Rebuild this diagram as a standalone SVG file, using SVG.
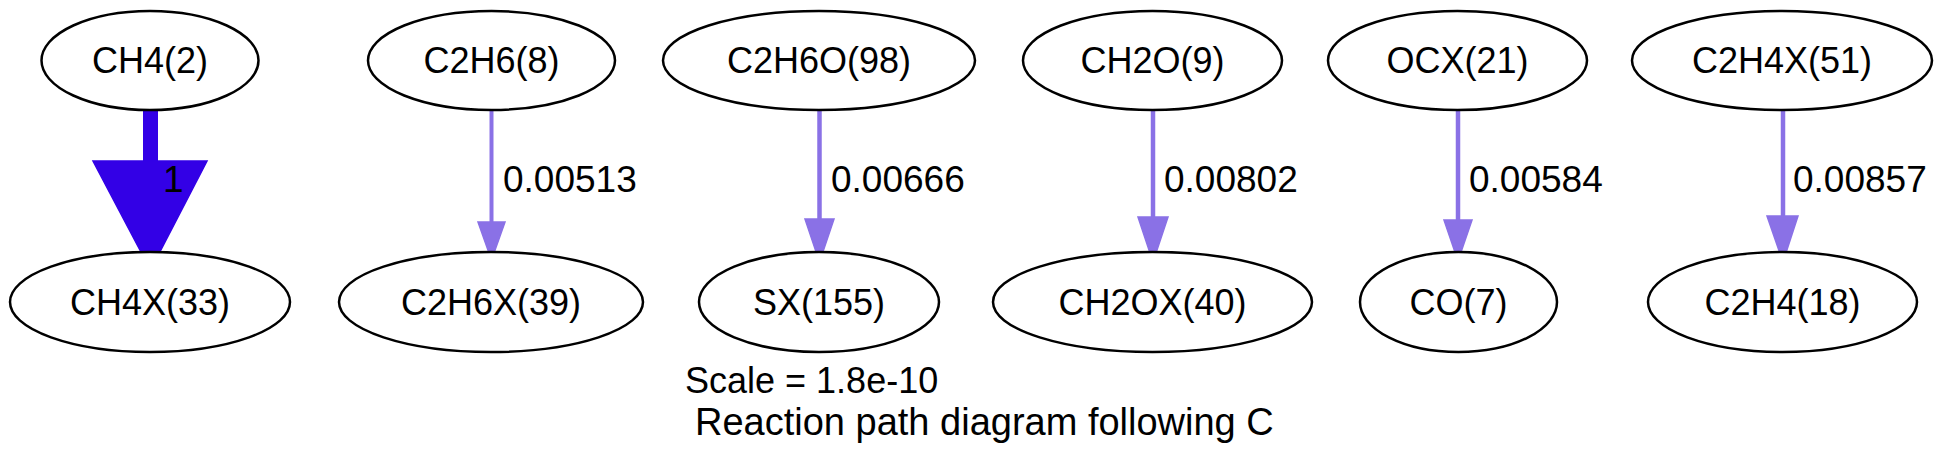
<svg xmlns="http://www.w3.org/2000/svg" width="1952" height="469" viewBox="0 0 1952 469">
<style>
.n ellipse{fill:#fff;stroke:#000;stroke-width:2.5}
.n text{font-family:"Liberation Sans",Arial,sans-serif;font-size:36px;text-anchor:middle;fill:#000}
.e line{stroke:#8a71e6;stroke-width:4.5}
.e polygon{fill:#8a71e6;stroke:#8a71e6;stroke-width:1.5}
.e text,.t{font-family:"Liberation Sans",Arial,sans-serif;font-size:37px;fill:#000}
</style>
<rect width="1952" height="469" fill="#fff"/>
<g id="connectors" class="e">
  <g id="e1">
    <line x1="150.5" y1="110" x2="150.5" y2="162" style="stroke:#3300e6;stroke-width:15"/>
    <polygon points="93,161 207,161 150.5,270" style="fill:#3300e6;stroke:#3300e6"/>
    <text x="163" y="192">1</text>
  </g>
  <g id="e2">
    <line x1="491.5" y1="110" x2="491.5" y2="224" style="stroke-width:4"/>
    <polygon points="478,222 505,222 491.5,260"/>
    <text x="503" y="192">0.00513</text>
  </g>
  <g id="e3">
    <line x1="819.5" y1="110" x2="819.5" y2="221"/>
    <polygon points="805,219 834,219 819.5,262"/>
    <text x="831" y="192">0.00666</text>
  </g>
  <g id="e4">
    <line x1="1153" y1="110" x2="1153" y2="219"/>
    <polygon points="1138,217 1168,217 1153,262"/>
    <text x="1164" y="192">0.00802</text>
  </g>
  <g id="e5">
    <line x1="1458" y1="110" x2="1458" y2="222"/>
    <polygon points="1444,220 1472,220 1458,261"/>
    <text x="1469" y="192">0.00584</text>
  </g>
  <g id="e6">
    <line x1="1783" y1="110" x2="1783" y2="218"/>
    <polygon points="1767,216 1798,216 1783,262"/>
    <text x="1793" y="192">0.00857</text>
  </g>
</g>
<g id="CH4_2" class="n"><ellipse cx="150" cy="60.5" rx="108.5" ry="49.5"/><text x="150" y="73">CH4(2)</text></g>
<g id="CH4X_33" class="n"><ellipse cx="150" cy="302" rx="140" ry="50"/><text x="150" y="315">CH4X(33)</text></g>
<g id="C2H6_8" class="n"><ellipse cx="491.5" cy="60.5" rx="123.5" ry="49.5"/><text x="491.5" y="73">C2H6(8)</text></g>
<g id="C2H6X_39" class="n"><ellipse cx="491" cy="302" rx="152" ry="50"/><text x="491" y="315">C2H6X(39)</text></g>
<g id="C2H6O_98" class="n"><ellipse cx="819" cy="60.5" rx="156" ry="49.5"/><text x="819" y="73">C2H6O(98)</text></g>
<g id="SX_155" class="n"><ellipse cx="819" cy="302" rx="120" ry="50"/><text x="819" y="315">SX(155)</text></g>
<g id="CH2O_9" class="n"><ellipse cx="1152.5" cy="60.5" rx="129.5" ry="49.5"/><text x="1152.5" y="73">CH2O(9)</text></g>
<g id="CH2OX_40" class="n"><ellipse cx="1152.5" cy="302" rx="159.5" ry="50"/><text x="1152.5" y="315">CH2OX(40)</text></g>
<g id="OCX_21" class="n"><ellipse cx="1457.5" cy="60.5" rx="129.5" ry="49.5"/><text x="1457.5" y="73">OCX(21)</text></g>
<g id="CO_7" class="n"><ellipse cx="1458.5" cy="302" rx="98.5" ry="50"/><text x="1458.5" y="315">CO(7)</text></g>
<g id="C2H4X_51" class="n"><ellipse cx="1782" cy="60.5" rx="150" ry="49.5"/><text x="1782" y="73">C2H4X(51)</text></g>
<g id="C2H4_18" class="n"><ellipse cx="1782.5" cy="302" rx="134.5" ry="50"/><text x="1782.5" y="315">C2H4(18)</text></g>
<g id="title">
  <text class="t" x="685" y="393" style="font-size:36px">Scale = 1.8e-10</text>
  <text class="t" x="695" y="435" style="font-size:38px">Reaction path diagram following C</text>
</g>
</svg>
